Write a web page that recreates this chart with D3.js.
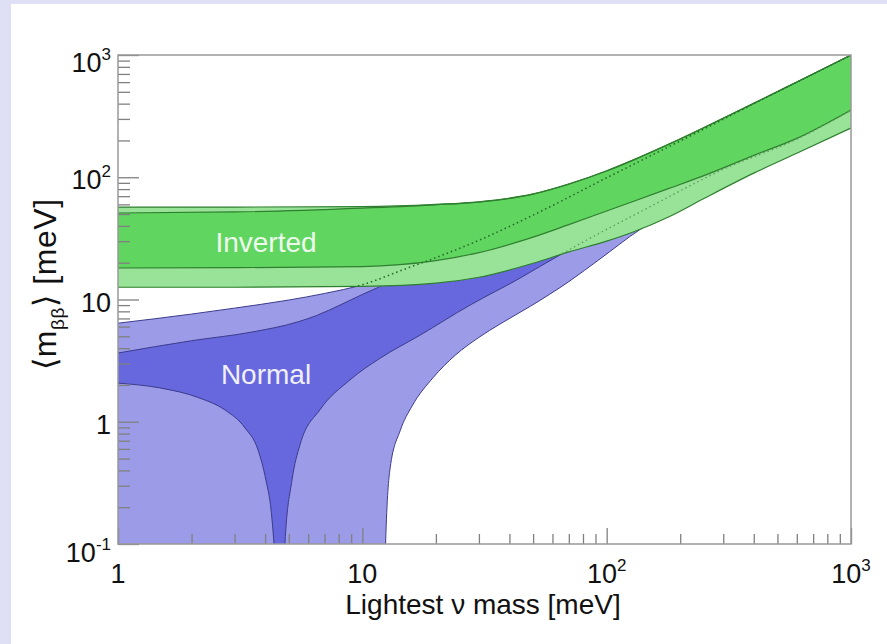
<!DOCTYPE html>
<html>
<head>
<meta charset="utf-8">
<script src="https://cdn.jsdelivr.net/npm/d3@7"></script>
<style>
  body { margin: 0; background: #dfdff5; }
  svg { display: block; font-family: "Liberation Sans", Arial, Helvetica, sans-serif; }
</style>
</head>
<body>
<div id="chart"></div>
<script>
// ---- data (lightest mass in meV -> <m_bb> in meV) ----
// inverted ordering
const invMass    = [1, 3, 10, 20, 30, 50, 70, 100, 130, 180, 250, 400, 600, 1000];
const invOuterHi = [57, 57, 57.5, 60, 63, 73, 88, 113, 140, 187, 255, 403, 602, 1000];
const invInnerHi = [51, 52, 56, 59.5, 62.7, 72.8, 87.8, 112.5, 139.5, 186.5, 254, 402, 600, 998];
const invInnerLo = [18.1, 18.2, 18.6, 20.8, 24.2, 32.4, 41, 53, 64, 81, 103, 151, 208, 355];
const invOuterLo = [12.6, 12.6, 12.8, 13.6, 15.2, 19.8, 24.5, 30, 36, 47.5, 67, 108, 157, 253];

// normal ordering, outer (light) band
const norOuterHiMass = [1, 2, 3, 5, 7, 10, 15, 20, 30, 50, 100, 200, 500, 1000];
const norOuterHi     = [6.4, 7.6, 8.5, 9.9, 11.2, 13.2, 17.8, 22, 30.5, 49, 99, 198, 500, 1000];
const norOuterLoMass = [1, 12.3, 12.45, 13, 14.3, 16, 19.5, 24, 30, 36.6, 48.7, 70, 94, 136, 200, 500, 1000];
const norOuterLo     = [0.01, 0.01, 0.1, 0.42, 0.85, 1.35, 2.3, 3.5, 4.9, 6.3, 8.8, 14, 21.5, 37, 58, 140, 265];

// normal ordering, inner (dark) band
const norInnerHiMass = [1, 2, 3.5, 5.5, 6.5, 8.1, 10, 12.2, 20, 50, 100, 1000];
const norInnerHi     = [3.65, 4.6, 5.4, 6.6, 7.4, 9.0, 11, 13.1, 20.5, 48, 97, 980];
const norInnerLoMass = [1, 1.486, 2.165, 2.74, 3.31, 3.74, 4.03, 4.23, 4.35, 4.5, 4.7, 4.82, 5.15, 5.56, 6.7, 8.9, 11.8, 17.2, 27.6, 44.3, 53, 80, 137, 300, 600, 1000];
const norInnerLo     = [2.07, 1.89, 1.56, 1.25, 0.89, 0.59, 0.334, 0.19, 0.1, 0.03, 0.03, 0.1, 0.33, 0.65, 1.25, 2.2, 3.3, 5.1, 9.0, 15, 18.5, 29.5, 52, 116, 205, 352];

// axis labels: [base, exponent]
const xTickVals   = [1, 10, 100, 1000];
const xTickLabels = [["1", ""], ["10", ""], ["10", "2"], ["10", "3"]];
const yTickVals   = [0.1, 1, 10, 100, 1000];
const yTickLabels = [["10", "-1"], ["1", ""], ["10", ""], ["10", "2"], ["10", "3"]];

const W = 887, H = 644;
const plot = {left: 118, right: 851, top: 55, bottom: 544};

const svg = d3.select("#chart").append("svg")
  .attr("width", W)
  .attr("height", H);

// page background
svg.append("rect").attr("width", W).attr("height", H).attr("fill", "#dfdff5");
svg.append("rect").attr("x", 11).attr("y", 4).attr("width", W - 11).attr("height", H - 4).attr("fill", "#ffffff");

const x = d3.scaleLog().domain([1, 1000]).range([plot.left, plot.right]);
const y = d3.scaleLog().domain([0.1, 1000]).range([plot.bottom, plot.top]);

const pts = (ms, vs) => ms.map((m, i) => [m, vs[i]]);

const defs = svg.append("defs");
defs.append("clipPath").attr("id", "plot-clip")
  .append("rect")
    .attr("x", plot.left).attr("y", plot.top)
    .attr("width", plot.right - plot.left).attr("height", plot.bottom - plot.top);

// region under a curve / above a curve (bands whose edges use different mass grids)
const areaBelow = d3.area().curve(d3.curveMonotoneX)
  .x(d => x(d[0])).y0(plot.bottom + 50).y1(d => y(d[1]));
const areaAbove = d3.area().curve(d3.curveMonotoneX)
  .x(d => x(d[0])).y0(plot.top - 50).y1(d => y(d[1]));
const band = d3.area().curve(d3.curveMonotoneX)
  .x(d => x(d.m)).y0(d => y(d.lo)).y1(d => y(d.hi));
const line = d3.line().curve(d3.curveMonotoneX)
  .x(d => x(d[0])).y(d => y(d[1]));

defs.append("clipPath").attr("id", "nor-outer-hi")
  .append("path").attr("d", areaBelow(pts(norOuterHiMass, norOuterHi)));
defs.append("clipPath").attr("id", "nor-inner-hi")
  .append("path").attr("d", areaBelow(pts(norInnerHiMass, norInnerHi)));

const invOuter = invMass.map((m, i) => ({m: m, lo: invOuterLo[i], hi: invOuterHi[i]}));
const invInner = invMass.map((m, i) => ({m: m, lo: invInnerLo[i], hi: invInnerHi[i]}));

defs.append("clipPath").attr("id", "inv-outer")
  .append("path").attr("d", band(invOuter));

const g = svg.append("g").attr("clip-path", "url(#plot-clip)");

// normal ordering
const blueEdge = "#3b3b8c";
g.append("g").attr("clip-path", "url(#nor-outer-hi)")
  .append("path")
    .attr("d", areaAbove(pts(norOuterLoMass, norOuterLo)))
    .attr("fill", "#9b9be8");
g.append("g").attr("clip-path", "url(#nor-inner-hi)")
  .append("path")
    .attr("d", areaAbove(pts(norInnerLoMass, norInnerLo)))
    .attr("fill", "#6767de");
[pts(norOuterHiMass, norOuterHi), pts(norOuterLoMass, norOuterLo),
 pts(norInnerHiMass, norInnerHi), pts(norInnerLoMass, norInnerLo)].forEach(d => {
  g.append("path").attr("d", line(d))
    .attr("fill", "none").attr("stroke", blueEdge).attr("stroke-width", 1);
});

// inverted ordering
const greenEdge = "#2f7f2f";
g.append("path").attr("d", band(invOuter)).attr("fill", "#98e398");
g.append("path").attr("d", band(invInner)).attr("fill", "#60d660");
[invOuterHi, invInnerHi, invInnerLo, invOuterLo].forEach(vs => {
  g.append("path").attr("d", line(pts(invMass, vs)))
    .attr("fill", "none").attr("stroke", greenEdge).attr("stroke-width", 1.2);
});

// normal band edges seen through the inverted band
const dots = g.append("g").attr("clip-path", "url(#inv-outer)");
dots.append("path").attr("d", line(pts(norOuterHiMass, norOuterHi)))
  .attr("fill", "none").attr("stroke", "#276b27")
  .attr("stroke-width", 1.6).attr("stroke-dasharray", "1.5,3");
dots.append("path").attr("d", line(pts(norInnerLoMass, norInnerLo)))
  .attr("fill", "none").attr("stroke", "#5a9a5a")
  .attr("stroke-width", 1.3).attr("stroke-dasharray", "1.5,3");

// region labels
svg.append("text").attr("x", 266).attr("y", 252)
  .attr("text-anchor", "middle").attr("font-size", 28).attr("fill", "#eef9ee")
  .text("Inverted");
svg.append("text").attr("x", 266).attr("y", 384)
  .attr("text-anchor", "middle").attr("font-size", 28).attr("fill", "#f0f0fb")
  .text("Normal");

// ticks (inside the frame, ROOT style)
const tickColor = "#808080";
const yMinor = y.ticks().filter(v => !yTickVals.includes(v));
const xMinor = x.ticks().filter(v => !xTickVals.includes(v));

function styleAxis(sel) {
  sel.select(".domain").remove();
  sel.selectAll(".tick line").attr("stroke", tickColor).attr("stroke-width", 1.3);
  sel.selectAll(".tick text").remove();
}
svg.append("g").attr("transform", `translate(${plot.left},0)`)
  .call(d3.axisLeft(y).tickValues(yMinor).tickSize(-12)).call(styleAxis);
svg.append("g").attr("transform", `translate(${plot.left},0)`)
  .call(d3.axisLeft(y).tickValues(yTickVals).tickSize(-21)).call(styleAxis);
svg.append("g").attr("transform", `translate(0,${plot.bottom})`)
  .call(d3.axisBottom(x).tickValues(xMinor).tickSize(-10)).call(styleAxis);
svg.append("g").attr("transform", `translate(0,${plot.bottom})`)
  .call(d3.axisBottom(x).tickValues(xTickVals).tickSize(-16)).call(styleAxis);

// frame
svg.append("rect")
  .attr("x", plot.left).attr("y", plot.top)
  .attr("width", plot.right - plot.left).attr("height", plot.bottom - plot.top)
  .attr("fill", "none").attr("stroke", "#999999").attr("stroke-width", 1.5);

// tick labels
function powerLabel(sel, base, exp) {
  sel.append("tspan").text(base);
  if (exp) sel.append("tspan").attr("dy", -12).attr("font-size", 17).text(exp);
}
xTickVals.forEach((v, i) => {
  const t = svg.append("text").attr("x", x(v)).attr("y", 583)
    .attr("text-anchor", "middle").attr("font-size", 27).attr("fill", "#111");
  powerLabel(t, xTickLabels[i][0], xTickLabels[i][1]);
});
yTickVals.forEach((v, i) => {
  const t = svg.append("text").attr("x", 111).attr("y", y(v) + (i === 4 ? 17 : i === 0 ? 18 : 12))
    .attr("text-anchor", "end").attr("font-size", 27).attr("fill", "#111");
  powerLabel(t, yTickLabels[i][0], yTickLabels[i][1]);
});

// axis titles
svg.append("text").attr("x", 483).attr("y", 614)
  .attr("text-anchor", "middle").attr("font-size", 28).attr("fill", "#111")
  .text("Lightest \u03bd mass [meV]");

const yt = svg.append("text")
  .attr("transform", "translate(56,284) rotate(-90)")
  .attr("text-anchor", "middle").attr("font-size", 32)
  .attr("letter-spacing", 0.6).attr("fill", "#111");
yt.append("tspan").text("\u27e8m");
yt.append("tspan").attr("dy", 8).attr("font-size", 19).text("\u03b2\u03b2");
yt.append("tspan").attr("dy", -8).text("\u27e9 [meV]");
</script>
</body>
</html>
